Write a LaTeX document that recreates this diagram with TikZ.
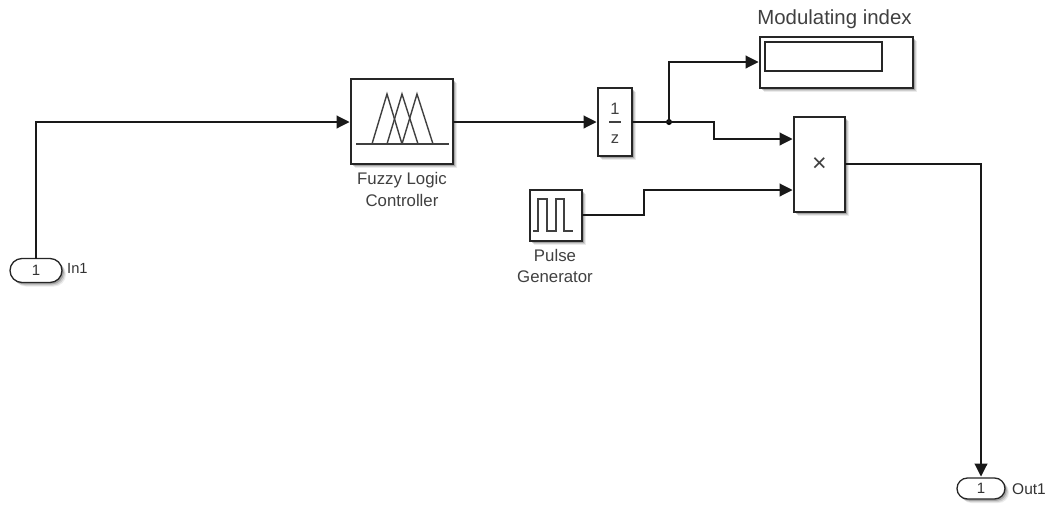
\documentclass[tikz,border=0pt]{standalone}
\usepackage{fontspec}
\setmainfont{Liberation Sans}
\usetikzlibrary{arrows.meta,shadows,shapes.misc,calc}
\definecolor{lbl}{HTML}{404040}
\tikzset{
  softshadow/.style={
    drop shadow={shadow xshift=4pt,shadow yshift=-4pt,opacity=0.08,fill=black},
    drop shadow={shadow xshift=3pt,shadow yshift=-3pt,opacity=0.12,fill=black},
    drop shadow={shadow xshift=1.8pt,shadow yshift=-1.8pt,opacity=0.2,fill=black}},
  blockbox/.style={draw=black!85,line width=1.2pt,fill=white,rectangle,inner sep=0pt,outer sep=0pt,softshadow,text=lbl},
  portpill/.style={draw=black!85,line width=1.3pt,fill=white,rounded rectangle,inner sep=0pt,outer sep=0pt,softshadow,text=black!80,font=\fontsize{15}{15}\selectfont},
  sig/.style={draw=black!90,line width=1.1pt},
  sigarrow/.style={sig,-{Triangle[length=13pt,width=13pt]},shorten >=1.5pt},
  lab/.style={text=lbl,inner sep=0pt,font=\fontsize{16.8}{21.5}\selectfont,align=center},
  glyph/.style={draw=black!75,line width=1.4pt,line join=miter},
  dotnode/.style={circle,fill=black,inner sep=0pt,minimum size=6pt}
}
\begin{document}
\begin{tikzpicture}[x=1pt,y=-1pt]
\useasboundingbox (0,0) rectangle (1050,504);
% blocks
\node[blockbox,minimum width=102pt,minimum height=85pt] (fuzzy) at (402,121.5) {};
\node[blockbox,minimum width=34pt,minimum height=68pt] (delay) at (615,122) {};
\node[blockbox,minimum width=153pt,minimum height=51pt] (disp) at (836.5,62.5) {};
\node[blockbox,minimum width=51pt,minimum height=95pt] (prod) at (819.5,164.5) {};
\node[blockbox,minimum width=52pt,minimum height=51pt] (pulse) at (556,215.5) {};
\node[portpill,minimum width=52pt,minimum height=24pt] (in) at (36,270.5) {1};
\node[portpill,minimum width=48pt,minimum height=21pt] (out) at (981,488.5) {1};
% block contents
\draw[glyph] (356,144) -- (449,144);
\draw[glyph] (372,144) -- (387,94) -- (402,144);
\draw[glyph] (387,144) -- (402,94) -- (418,144);
\draw[glyph] (402,144) -- (417,94) -- (433,144);
\node[text=lbl,inner sep=0pt,font=\fontsize{16.5}{16.5}\selectfont] (one) at (615,108.5) {1};
\draw[glyph,line width=1.2pt] (609,122) -- (621,122);
\node[text=lbl,inner sep=0pt,font=\fontsize{16.5}{16.5}\selectfont] (zed) at (615,139.5) {z};
\node[draw=black!85,line width=1.1pt,fill=white,inner sep=0pt,minimum width=117pt,minimum height=29pt] (dispin) at (823.5,56.5) {};
\node[text=lbl,inner sep=0pt,font=\fontsize{25}{25}\selectfont] (times) at (819.5,164.5) {×};
\draw[glyph] (533,231) -- (538,231) -- (538,199) -- (547,199) -- (547,231) -- (556,231) -- (556,199) -- (564,199) -- (564,231) -- (573,231);
% labels
\node[lab] (l1) at (402,189.5) {Fuzzy Logic\\Controller};
\node[lab] (l2) at (555,266) {Pulse\\Generator};
\node[text=lbl,inner sep=0pt,font=\fontsize{20.4}{20.4}\selectfont] (l3) at (834.5,19) {Modulating index};
\node[text=black!80,inner sep=0pt,font=\fontsize{14.7}{15}\selectfont,anchor=west] (l4) at (67,268) {In1};
\node[text=black!80,inner sep=0pt,font=\fontsize{15.5}{16}\selectfont,anchor=west] (l5) at (1012,489) {Out1};
% ports
\node[dotnode] (junc) at (669,122) {};
\coordinate (dispport) at (760,62);
\coordinate (prodA) at (794,139);
\coordinate (prodB) at (794,190);
\coordinate (prodOut) at (845,164);
\coordinate (pulseOut) at (582,215);
% connectors
\draw[sigarrow] (in.north) -- (36,122) -- (351,122);
\draw[sigarrow] (fuzzy.east |- delay.west) -- (delay.west);
\draw[sig] (delay.east) -- (junc.center);
\draw[sigarrow] (junc.center) -- (669,62) -- (dispport);
\draw[sigarrow] (junc.center) -- (714,122) -- (714,139) -- (prodA);
\draw[sigarrow] (pulseOut) -- (644,215) -- (644,190) -- (prodB);
\draw[sigarrow] (prodOut) -- (981,164) -- (out.north);
\end{tikzpicture}
\end{document}
